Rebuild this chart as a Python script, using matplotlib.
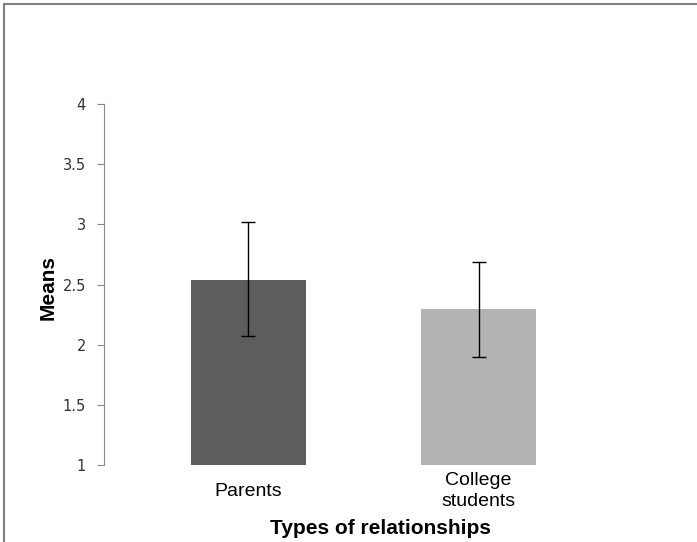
import matplotlib.pyplot as plt
from matplotlib.lines import Line2D

# data
categories = ["Parents", "College\nstudents"]
means = [2.54, 2.30]
err_low = [2.07, 1.90]
err_high = [3.02, 2.69]
bar_colors = ["#5d5d5d", "#b3b3b3"]
yticks = [1, 1.5, 2, 2.5, 3, 3.5, 4]

W, H = 697, 542
fig = plt.figure(figsize=(W / 100, H / 100), dpi=100)
fig.set_facecolor("white")

# page border (top + left)
fig.add_artist(Line2D([4 / W, 1], [1 - 4 / H, 1 - 4 / H], color="#808080", lw=1.5, transform=fig.transFigure))
fig.add_artist(Line2D([4 / W, 4 / W], [0, 1 - 4 / H], color="#808080", lw=1.5, transform=fig.transFigure))

ax = fig.add_axes([104 / W, (H - 465) / H, (623 - 104) / W, (465 - 104) / H])

x = list(range(len(categories)))
heights = [m - 1 for m in means]
yerr = [[m - lo for m, lo in zip(means, err_low)],
        [hi - m for m, hi in zip(means, err_high)]]
ax.bar(x, heights, bottom=1, width=0.5, color=bar_colors)
ax.errorbar(x, means, yerr=yerr, fmt="none", ecolor="black", elinewidth=1, capsize=5, capthick=1)

ax.set_xlim(-0.628, 1.628)
ax.set_ylim(1, 4)
ax.set_yticks(yticks)
ax.set_yticklabels(["1", "1.5", "2", "2.5", "3", "3.5", "4"], fontsize=10.5, color="#333333")
ax.tick_params(axis="y", direction="out", length=5, color="#888888", pad=8)

ax.set_xticks(x)
ax.set_xticklabels(categories, fontsize=14, family="Liberation Sans", linespacing=1.3, va="center")
ax.tick_params(axis="x", length=0, pad=19)

for s in ["top", "right", "bottom"]:
    ax.spines[s].set_visible(False)
ax.spines["left"].set_color("#888888")

fig.text(48 / W, 1 - 287 / H, "Means", rotation=90, ha="center", va="center",
         fontsize=15, fontweight="bold", family="Liberation Sans")
fig.text(381 / W, 1 - 528 / H, "Types of relationships", ha="center", va="center",
         fontsize=15, fontweight="bold", family="Liberation Sans")

plt.savefig("out.png", dpi=100)
